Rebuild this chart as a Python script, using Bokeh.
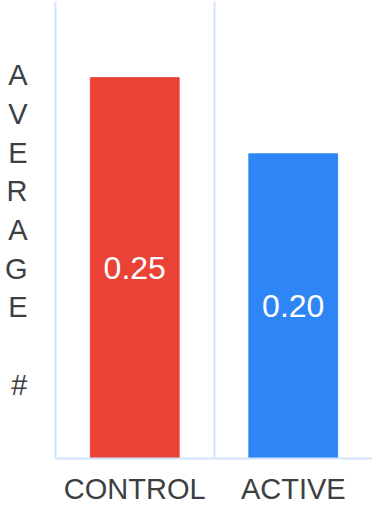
from bokeh.plotting import figure
from bokeh.models import ColumnDataSource, FixedTicker
from bokeh.core.properties import value
from bokeh.embed import file_html
from bokeh.resources import INLINE

# Data
categories = ["CONTROL", "ACTIVE"]
averages = [0.25, 0.20]
value_labels = ["0.25", "0.20"]
bar_colors = ["#EA4335", "#2E85F6"]
y_title = "AVERAGE #"

FONT = "Liberation Sans"
TEXT_COLOR = "#3c4043"
LINE_COLOR = "#d2e3fc"

src = ColumnDataSource(dict(
    cat=categories,
    top=averages,
    mid=[v / 2 for v in averages],
    label=value_labels,
    color=bar_colors,
))

p = figure(
    width=372, height=507,
    x_range=categories, y_range=(0, 0.3),
    output_backend="svg", toolbar_location=None,
    min_border_left=55, min_border_right=0,
    min_border_top=1, min_border_bottom=49,
)
p.outline_line_color = None
p.background_fill_color = "white"
p.border_fill_color = "white"

p.vbar(x="cat", top="top", bottom=0, width=0.56, color="color", source=src)
p.text(x="cat", y="mid", text="label", source=src,
       text_align="center", text_baseline="middle",
       text_color="white", text_font_size="32px", text_font=value(FONT))

# Category separators
p.xgrid.ticker = FixedTicker(ticks=[1, 2])
p.xgrid.grid_line_color = LINE_COLOR
p.xgrid.grid_line_width = 2
p.ygrid.grid_line_color = None

# X axis
xa = p.xaxis[0]
xa.axis_line_color = LINE_COLOR
xa.axis_line_width = 2
xa.major_tick_line_color = None
xa.minor_tick_line_color = None
xa.major_tick_out = 0
xa.major_tick_in = 0
xa.major_label_text_font = FONT
xa.major_label_text_font_size = "29px"
xa.major_label_text_color = TEXT_COLOR
xa.major_label_standoff = 14

# Y axis: no ticks, stacked title
ya = p.yaxis[0]
ya.ticker = FixedTicker(ticks=[])
ya.axis_line_color = LINE_COLOR
ya.axis_line_width = 2
ya.major_tick_line_color = None
ya.minor_tick_line_color = None
ya.major_tick_out = 0
ya.major_tick_in = 0
ya.major_label_text_font_size = "0px"
ya.axis_label = "\n".join(y_title)
ya.axis_label_orientation = "horizontal"
ya.axis_label_text_font = FONT
ya.axis_label_text_font_size = "29px"
ya.axis_label_text_font_style = "normal"
ya.axis_label_text_color = TEXT_COLOR
ya.axis_label_text_line_height = 1.21
ya.axis_label_standoff = 28

open("out.html", "w").write(file_html(p, INLINE))
